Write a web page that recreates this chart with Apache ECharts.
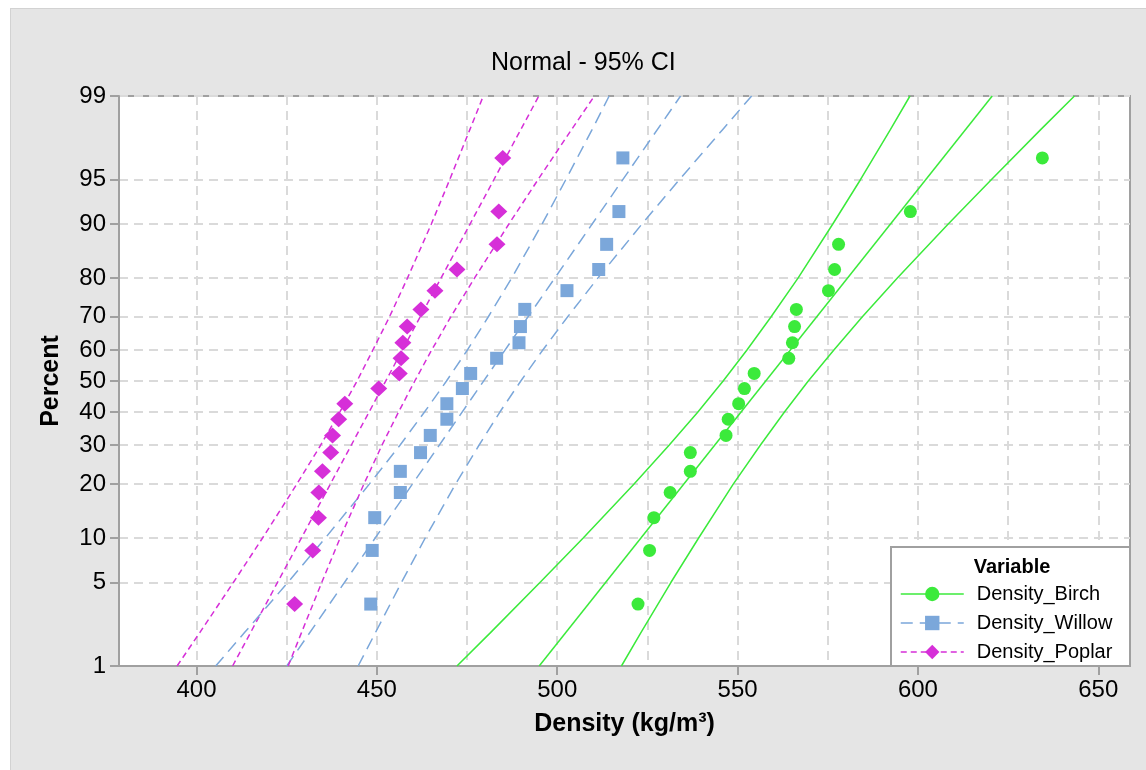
<!DOCTYPE html>
<html><head><meta charset="utf-8">
<script src="https://cdn.jsdelivr.net/npm/echarts@6/dist/echarts.min.js"></script>
<style>
html,body{margin:0;padding:0;background:#fff;}
#panel{position:absolute;left:10px;top:8px;width:1136px;height:762px;background:#E5E5E5;border-left:1px solid #D2D2D2;border-top:1px solid #D2D2D2;box-sizing:border-box;}
#chart{position:absolute;left:0;top:0;width:1146px;height:770px;}
</style></head><body>
<div id="panel"></div><div id="chart"></div>
<script>
const titleText = 'Normal - 95% CI';
const xTitle = 'Density (kg/m³)';
const yTitle = 'Percent';
const legendTitle = 'Variable';
const seriesNames = ['Density_Birch', 'Density_Willow', 'Density_Poplar'];
const percentTicks = [1, 5, 10, 20, 30, 40, 50, 60, 70, 80, 90, 95, 99];
const xLabelTicks = [400, 450, 500, 550, 600, 650];
const xGridTicks = [400, 425, 450, 475, 500, 525, 550, 575, 600, 625, 650];

// plotting positions (percent) of the sorted observations
const plotPercent = [3.431, 8.333, 13.235, 18.137, 23.039, 27.941, 32.843, 37.745, 42.647, 47.549,
  52.451, 57.353, 62.255, 67.157, 72.059, 76.961, 81.863, 86.765, 91.667, 96.569];
const birch = [522.4, 525.6, 526.8, 531.3, 536.9, 536.9, 546.8, 547.4, 550.3, 551.9,
  554.6, 564.2, 565.2, 565.8, 566.3, 575.2, 576.9, 578.0, 597.9, 634.5];
const willow = [448.3, 448.7, 449.4, 456.5, 456.5, 462.1, 464.8, 469.4, 469.4, 473.7,
  476.0, 483.2, 489.4, 489.8, 491.0, 502.7, 511.5, 513.7, 517.1, 518.2];
const poplar = [427.2, 432.2, 433.8, 433.9, 434.9, 437.2, 437.7, 439.4, 441.1, 450.5,
  456.2, 456.7, 457.2, 458.4, 462.2, 466.1, 472.2, 483.3, 483.8, 484.9];

// fitted lines (percent -> density)
const fitPercent = [1, 99];
const birchFit = [495.0, 620.6];
const willowFit = [425.0, 534.2];
const poplarFit = [410.0, 494.9];

// 95% confidence bands
const bandPercent = [1, 2, 5, 10, 20, 30, 40, 50, 60, 70, 80, 90, 95, 98, 99];
const birchLower = [472.2, 481.5, 495.2, 507.2, 521.3, 531.0, 539.0, 546.0, 552.6, 559.3, 566.8, 576.4, 584.1, 592.4, 597.8];
const birchUpper = [517.8, 523.2, 531.5, 539.2, 548.8, 556.3, 563.0, 569.6, 576.7, 584.6, 594.3, 608.4, 620.4, 634.1, 643.4];
const willowLower = [405.3, 413.3, 425.3, 435.7, 447.9, 456.4, 463.2, 469.3, 475.1, 480.9, 487.4, 495.8, 502.4, 509.7, 514.4];
const willowUpper = [444.8, 449.6, 456.8, 463.4, 471.8, 478.3, 484.1, 489.9, 496.0, 502.9, 511.3, 523.5, 533.9, 545.9, 553.9];
const poplarLower = [394.6, 400.9, 410.2, 418.3, 427.8, 434.4, 439.7, 444.5, 448.9, 453.5, 458.5, 465.1, 470.2, 475.8, 479.5];
const poplarUpper = [425.4, 429.1, 434.7, 439.8, 446.4, 451.4, 456.0, 460.5, 465.2, 470.5, 477.1, 486.6, 494.7, 504.0, 510.3];

// inverse normal CDF (probability-scale transform of the y axis)
function normInv(p) {
  const a = [-3.969683028665376e+01, 2.209460984245205e+02, -2.759285104469687e+02, 1.383577518672690e+02, -3.066479806614716e+01, 2.506628277459239e+00];
  const b = [-5.447609879822406e+01, 1.615858368580409e+02, -1.556989798598866e+02, 6.680131188771972e+01, -1.328068155288572e+01];
  const c = [-7.784894002430293e-03, -3.223964580411365e-01, -2.400758277161838e+00, -2.549671010029464e+00, 4.374664141464968e+00, 2.938163982698783e+00];
  const d = [7.784695709041462e-03, 3.224671290700398e-01, 2.445134137142996e+00, 3.754408661907416e+00];
  const pl = 0.02425, ph = 1 - pl;
  let q, r;
  if (p < pl) {
    q = Math.sqrt(-2 * Math.log(p));
    return (((((c[0]*q+c[1])*q+c[2])*q+c[3])*q+c[4])*q+c[5]) / ((((d[0]*q+d[1])*q+d[2])*q+d[3])*q+1);
  }
  if (p <= ph) {
    q = p - 0.5; r = q * q;
    return (((((a[0]*r+a[1])*r+a[2])*r+a[3])*r+a[4])*r+a[5])*q / (((((b[0]*r+b[1])*r+b[2])*r+b[3])*r+b[4])*r+1);
  }
  q = Math.sqrt(-2 * Math.log(1 - p));
  return -(((((c[0]*q+c[1])*q+c[2])*q+c[3])*q+c[4])*q+c[5]) / ((((d[0]*q+d[1])*q+d[2])*q+d[3])*q+1);
}
const z = pct => normInv(pct / 100);
const yTickZ = percentTicks.map(z);
const zMin = z(1), zMax = z(99);
function pctLabel(v) {
  let best = 0, bd = Infinity;
  yTickZ.forEach((t, i) => { const dd = Math.abs(t - v); if (dd < bd) { bd = dd; best = i; } });
  return String(percentTicks[best]);
}

const FONT = '"Liberation Sans", Arial, sans-serif';
const AXC = '#A0A0A0';
const GRIDC = '#DADADA';

const groups = [
  { name: seriesNames[0], color: '#3BEA3B', dash: 'solid', symbol: 'circle', size: 13, pts: birch, fit: birchFit, lo: birchLower, hi: birchUpper },
  { name: seriesNames[1], color: '#7BA7DA', dash: [12, 7], symbol: 'rect', size: 13, pts: willow, fit: willowFit, lo: willowLower, hi: willowUpper },
  { name: seriesNames[2], color: '#D62FD8', dash: [6, 4], symbol: 'diamond', size: [17, 16], pts: poplar, fit: poplarFit, lo: poplarLower, hi: poplarUpper }
];

const series = [];
groups.forEach(g => {
  series.push({
    type: 'line', name: g.name, silent: true, symbol: g.symbol, symbolSize: g.size, showSymbol: false,
    data: fitPercent.map((p, i) => [g.fit[i], z(p)]),
    lineStyle: { color: g.color, width: 1.5, type: g.dash }, itemStyle: { color: g.color }, z: 2
  });
});
groups.forEach(g => {
  [g.lo, g.hi].forEach((arr, k) => {
    series.push({
      type: 'line', name: g.name + (k ? ' upper' : ' lower'), silent: true, symbol: 'none', showSymbol: false,
      data: bandPercent.map((p, i) => [arr[i], z(p)]),
      lineStyle: { color: g.color, width: 1.5, type: g.dash }, itemStyle: { color: g.color }, z: 2
    });
  });
});
groups.forEach(g => {
  series.push({
    type: 'scatter', name: g.name, silent: true, symbol: g.symbol, symbolSize: g.size,
    data: g.pts.map((v, i) => [v, z(plotPercent[i])]),
    itemStyle: { color: g.color, opacity: 1 }, z: 3
  });
});

const chart = echarts.init(document.getElementById('chart'), null, { renderer: 'canvas' });
chart.setOption({
  backgroundColor: 'transparent',
  animation: false,
  tooltip: { show: false },
  textStyle: { fontFamily: FONT },
  title: {
    text: titleText, left: 486, top: 46,
    textStyle: { fontSize: 25, fontWeight: 'normal', color: '#000', fontFamily: FONT }
  },
  grid: {
    left: 119, right: 16, top: 96, bottom: 104, containLabel: false, outerBoundsMode: 'none',
    show: true, backgroundColor: '#FFFFFF', borderColor: AXC, borderWidth: 2
  },
  xAxis: [
    {
      type: 'value', min: 378.5, max: 658.8, position: 'bottom',
      axisLine: { show: true, onZero: false, lineStyle: { color: AXC, width: 2 } },
      axisTick: { show: true, length: 9, customValues: xLabelTicks, lineStyle: { color: AXC, width: 2 } },
      axisLabel: { customValues: xLabelTicks, fontSize: 24, color: '#000', margin: 12, fontFamily: FONT },
      splitLine: { show: false },
      name: xTitle, nameLocation: 'middle', nameGap: 46,
      nameTextStyle: { fontSize: 25, fontWeight: 'bold', color: '#000', fontFamily: FONT }
    },
    {
      type: 'value', min: 378.5, max: 658.8, position: 'top',
      axisLine: { show: false }, axisLabel: { show: false },
      axisTick: { show: false, customValues: xGridTicks },
      splitLine: { show: true, lineStyle: { color: GRIDC, width: 2, type: [9, 6] } }
    }
  ],
  yAxis: {
    type: 'value', min: zMin, max: zMax,
    axisLine: { show: true, onZero: false, lineStyle: { color: AXC, width: 2 } },
    axisTick: { show: true, length: 9, customValues: yTickZ, lineStyle: { color: AXC, width: 2 } },
    axisLabel: { customValues: yTickZ, formatter: pctLabel, fontSize: 24, color: '#000', margin: 13, fontFamily: FONT },
    splitLine: { show: true, lineStyle: { color: GRIDC, width: 2, type: [9, 6] } },
    name: yTitle, nameLocation: 'middle', nameGap: 55,
    nameTextStyle: { fontSize: 25, fontWeight: 'bold', color: '#000', fontFamily: FONT }
  },
  legend: {
    data: seriesNames, orient: 'vertical', left: 900, top: 584,
    itemWidth: 63, itemHeight: 18, itemGap: 9, padding: 0, selectedMode: false, z: 20,
    textStyle: { fontSize: 20, color: '#000', fontFamily: FONT, padding: [0, 0, 0, 8] },
    lineStyle: { width: 1.5 }
  },
  graphic: [
    { type: 'rect', z: 10, shape: { x: 891, y: 547, width: 239, height: 119 },
      style: { fill: '#FFFFFF', stroke: AXC, lineWidth: 2 } },
    { type: 'text', z: 11, x: 1012, y: 567,
      style: { text: legendTitle, fontSize: 20, fontWeight: 'bold', fill: '#000', font: 'bold 20px ' + FONT, textAlign: 'center', textVerticalAlign: 'middle' } }
  ],
  series: series
});
</script>
</body></html>
